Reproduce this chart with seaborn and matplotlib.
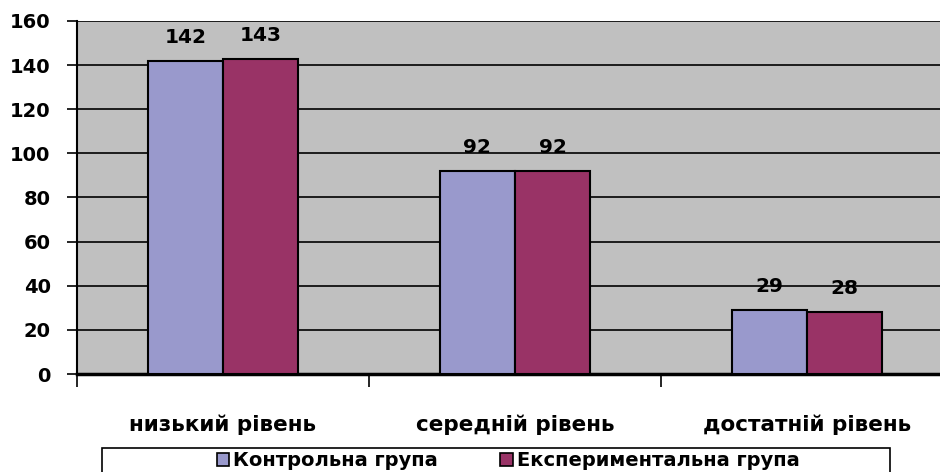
import matplotlib
matplotlib.use('Agg')
import matplotlib.pyplot as plt
import seaborn as sns
import pandas as pd

sns.set_theme(style='white')
plt.rcParams['font.family'] = ['DejaVu Sans']
plt.rcParams['font.weight'] = 'bold'
plt.rcParams['text.color'] = 'black'

# data
levels = ['низький рівень', 'середній рівень', 'достатній рівень']
groups = ['Контрольна група', 'Експериментальна група']
control = [142, 92, 29]
experimental = [143, 92, 28]
colors = ['#9999CC', '#993366']

df = pd.DataFrame({
    'level': levels * 2,
    'group': [groups[0]] * 3 + [groups[1]] * 3,
    'value': control + experimental,
})

fig = plt.figure(figsize=(9.4, 4.72), dpi=100)
ax = fig.add_axes([77 / 940, 98 / 472, 876 / 940, 353 / 472])
ax.set_facecolor('#C0C0C0')

sns.barplot(data=df, x='level', y='value', hue='group', palette=colors,
            saturation=1, width=0.516, edgecolor='black', linewidth=1.5,
            ax=ax, legend=False, zorder=3)

ax.set_xlim(-0.5, 2.5)
ax.set_ylim(0, 160)
ax.set_yticks(range(0, 161, 20))
ax.yaxis.grid(True, color='black', linewidth=1.2, zorder=0)
ax.set_axisbelow(True)

# value labels
for cont in ax.containers:
    for bar in cont:
        h = bar.get_height()
        ax.annotate(f'{h:.0f}', (bar.get_x() + bar.get_width() / 2, h),
                    xytext=(0, 10), textcoords='offset points',
                    ha='center', va='bottom', fontsize=14.5, fontweight='bold',
                    color='black')

for s in ['top', 'right']:
    ax.spines[s].set_visible(False)
ax.spines['left'].set_color('black')
ax.spines['left'].set_linewidth(1.5)
ax.spines['bottom'].set_color('black')
ax.spines['bottom'].set_linewidth(2.5)

ax.tick_params(axis='y', left=True, length=7, width=1.2, color='black',
               labelsize=14, pad=12, labelcolor='black')
ax.tick_params(axis='x', which='major', length=0, labelsize=15.5, pad=29,
               labelcolor='black')
ax.set_xticks([-0.5, 0.5, 1.5], minor=True)
ax.tick_params(axis='x', which='minor', bottom=True, length=9, width=1.2,
               color='black')
for lab in ax.get_xticklabels() + ax.get_yticklabels():
    lab.set_fontweight('bold')
ax.set_xlabel('')
ax.set_ylabel('')

# legend frame (runs past the bottom edge, as in the original)
fig.patches.append(plt.Rectangle((102 / 940, -0.05), 788 / 940, 0.05 + 24 / 472,
                                 transform=fig.transFigure, facecolor='white',
                                 edgecolor='black', linewidth=1.2, zorder=0))
handles = [plt.Rectangle((0, 0), 1, 1, facecolor=c, edgecolor='black',
                         linewidth=1.2) for c in colors]
fig.legend(handles, groups, loc='center', ncol=2,
           bbox_to_anchor=(508 / 940, 1 - 461 / 472), frameon=False,
           handlelength=0.65, handleheight=0.65, handletextpad=0.2,
           columnspacing=3.2, borderpad=0.0,
           prop={'weight': 'bold', 'size': 14})

fig.savefig('out.png', dpi=100)
